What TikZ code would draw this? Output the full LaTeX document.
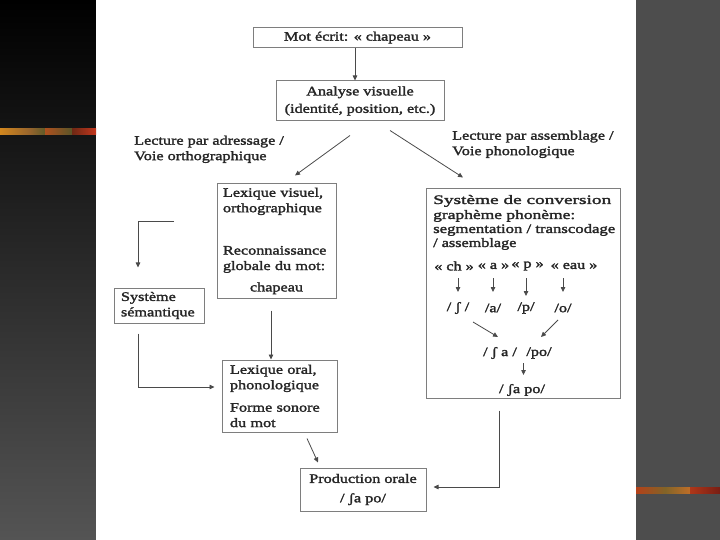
\documentclass[tikz,border=0pt]{standalone}
\usepackage{fontspec}
\setmainfont{Liberation Serif}[FakeStretch=1.25,FakeBold=2]
\usetikzlibrary{calc,arrows.meta}
\definecolor{linec}{HTML}{4A4A4A}
\definecolor{boxc}{HTML}{7E7E7E}
\definecolor{txtc}{HTML}{262626}
\definecolor{sideR}{HTML}{4D4D4D}
\definecolor{sideL}{HTML}{545454}
\definecolor{sideM}{HTML}{2E2E2E}
\begin{document}
\begin{tikzpicture}[x=1bp,y=-1bp,
  font=\fontsize{13}{15.5}\selectfont,
  box/.style={draw=boxc, line width=1bp, fill=white, inner sep=0pt, text=txtc},
  lbl/.style={inner sep=0pt, text=txtc, align=left},
  arr/.style={draw=linec, line width=0.8bp, -{Triangle[length=5bp,width=4.5bp]}},
  ln/.style={draw=linec, line width=0.8bp}]
\useasboundingbox (0,0) rectangle (720,540);
% background
\shade[top color=black, middle color=sideM, bottom color=sideL] (0,0) rectangle (96,540);
\fill[white] (96,0) rectangle (636,540);
\fill[sideR] (636,0) rectangle (720,540);
% decorative streaks
\shade[left color={rgb,255:red,210;green,135;blue,30}, right color={rgb,255:red,150;green,100;blue,45}] (0,129) rectangle (30,135);
\shade[left color={rgb,255:red,150;green,100;blue,45}, right color={rgb,255:red,95;green,90;blue,40}] (30,129) rectangle (45,135);
\shade[left color={rgb,255:red,175;green,80;blue,30}, right color={rgb,255:red,90;green,85;blue,40}] (45,129) rectangle (72,135);
\shade[left color={rgb,255:red,110;green,40;blue,20}, right color={rgb,255:red,195;green,55;blue,30}] (72,129) rectangle (96,135);
\shade[left color={rgb,255:red,180;green,65;blue,25}, right color={rgb,255:red,130;green,100;blue,40}] (636,487) rectangle (665,493);
\shade[left color={rgb,255:red,130;green,100;blue,40}, right color={rgb,255:red,190;green,110;blue,40}] (665,487) rectangle (690,493);
\shade[left color={rgb,255:red,175;green,55;blue,25}, right color={rgb,255:red,120;green,30;blue,20}] (690,487) rectangle (720,493);

% boxes
\node[box, minimum width=209bp, minimum height=20bp] (mot) at (357.5,37.5) {Mot écrit: «~chapeau~»};
\node[box, minimum width=168bp, minimum height=40bp, align=center] (ana) at (360,101) {Analyse visuelle\\[2pt](identité, position, etc.)};
\node[box, minimum width=119bp, minimum height=114bp, text width=107bp, align=left] (lexvis) at (276.5,241)
  {Lexique visuel,\\orthographique\\[27pt]Reconnaissance\\globale du mot:\\[6pt]\makebox[\linewidth]{chapeau}};
\node[box, minimum width=90bp, minimum height=35bp, text width=76bp, align=left] (syssem) at (159,305.5) {Système\\sémantique};
\node[box, minimum width=115bp, minimum height=72bp, text width=99bp, align=left] (lexoral) at (279.5,396)
  {Lexique oral,\\phonologique\\[7pt]Forme sonore\\du mot};
\node[box, minimum width=126bp, minimum height=43bp, align=center] (prod) at (363,489.5) {Production orale\\[4pt]/ ʃa po/};
\node[box, minimum width=194bp, minimum height=209bp] (conv) at (523,293.5) {};

% labels
\node[lbl, anchor=north west] (lad) at (134,135.5) {Lecture par adressage /\\Voie orthographique};
\node[lbl, anchor=north west] (las) at (452,130.5) {Lecture par assemblage /\\Voie phonologique};

% text inside the conversion box
\node[lbl, anchor=base west] (c1) at (433,204) {\resizebox{178bp}{\height}{Système de conversion}};
\node[lbl, anchor=base west] (c2) at (433,219) {\resizebox{142bp}{\height}{graphème phonème:}};
\node[lbl, anchor=base west] (c3) at (433,233) {\resizebox{182bp}{\height}{segmentation / transcodage}};
\node[lbl, anchor=base west] (c4) at (433,247) {/ assemblage};
\node[lbl] (g1) at (454,266) {«~ch~»};
\node[lbl] (g2) at (493.5,266) {«~a~»};
\node[lbl] (g3) at (527.5,266) {«~p~»};
\node[lbl] (g4) at (574,266) {«~eau~»};
\node[lbl] (p1) at (458,308) {/ ʃ /};
\node[lbl] (p2) at (493,308) {/a/};
\node[lbl] (p3) at (526,308) {/p/};
\node[lbl] (p4) at (563,308) {/o/};
\node[lbl] (m1) at (500,353) {/ ʃ a /};
\node[lbl] (m2) at (539,353) {/po/};
\node[lbl] (f1) at (522,390) {/ ʃa po/};

% connectors inside conversion box
\draw[arr] ($(p1|-g1)+(0,12)$) -- ($(p1)+(0,-16)$);
\draw[arr] ($(p2|-g2)+(0,12)$) -- ($(p2)+(0,-16)$);
\draw[arr] ($(p3|-g3)+(0,12)$) -- ($(p3)+(0,-12)$);
\draw[arr] ($(p4|-g4)+(0,12)$) -- ($(p4)+(0,-16)$);
\draw[arr] ($(p1)+(15,14)$) -- ($(m1)+(-2,-16)$);
\draw[arr] ($(p4)+(-5,12)$) -- ($(m2)+(2,-16)$);
\coordinate (ms) at ($(m1)!0.5!(m2)+(4,10)$);
\coordinate (fa) at ($(f1)+(0,-15)$);
\draw[arr] (ms) -- (ms |- fa);

% main connectors
\draw[arr] ([xshift=-2.5bp]mot.south) -- ([xshift=-2.5bp]mot.south |- ana.north);
\draw[arr] ($(ana.south)+(-10,14)$) -- ($(lexvis.north)+(18.5,-8)$);
\draw[arr] ($(ana.south)+(30,9)$) -- ($(conv.north)+(-60,-11)$);
\coordinate (e0) at (174,221);
\draw[arr] (e0) -| ($(syssem.north)+(-21,-20)$);
\coordinate (lv) at ($(lexvis.south)+(-5.5,12)$);
\draw[arr] (lv) -- (lv |- lexoral.north);
\draw[arr] ($(syssem.south)+(-21,10)$) |- ($(lexoral.west)+(-7,-9)$);
\draw[arr] ($(lexoral.south)+(27.5,6)$) -- ($(prod.north)+(-45,-5)$);
\draw[arr] ($(conv.south)+(-24,12)$) |- ($(prod.east)+(7,-2.5)$);
\end{tikzpicture}
\end{document}
